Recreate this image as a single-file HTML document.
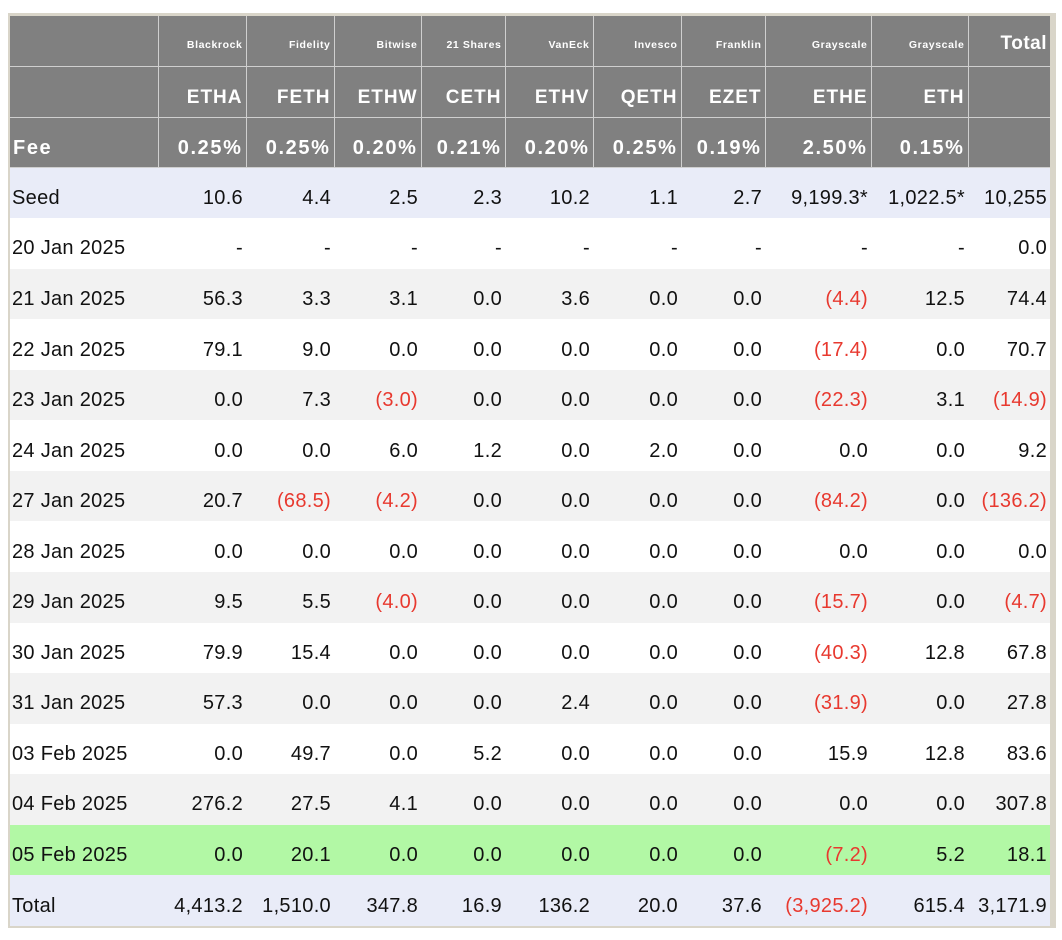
<!DOCTYPE html>
<html><head><meta charset="utf-8">
<style>
html,body{margin:0;padding:0;background:#fff;width:1062px;height:940px;overflow:hidden}
#wrap{position:absolute;left:8px;top:13px;border:2px solid #d9d5c9;border-top-width:3px;border-right-width:6px}
table{border-collapse:collapse;table-layout:fixed;width:1040px;font-family:"Liberation Sans",sans-serif;font-size:20px;letter-spacing:0.3px;color:#111}
td{height:50.56px;padding:11px 3px 0 2px;text-align:right;white-space:nowrap;overflow:visible;box-sizing:border-box}
tr.h td{background:#808080;color:#fff;font-weight:bold;border:1px solid #cfcfcf;letter-spacing:1px;font-size:19px;padding-top:12px}
tr.h td.fee{font-size:20px;letter-spacing:1.6px}
tr.h td.co{font-size:10.5px;vertical-align:bottom;padding-bottom:15px;letter-spacing:0.6px;padding-top:0}
tr.h td.tot{font-size:19px;vertical-align:top;padding-top:17px;letter-spacing:0.5px}
td.first{text-align:left;padding-left:2px}
tr.h td.first{border-left:none;padding-left:3px}
tr.h td:last-child{border-right:none}
tr.h:first-child td{border-top:none}
.neg{color:#e8392f}
tr.seed td,tr.total td{background:#e9ecf8}
tr.g td{background:#f2f2f2}
tr.w td{background:#fff}
tr.hl td{background:#b2f8a5}
</style></head><body>
<div id="wrap">
<table id="t">
<colgroup>
<col style="width:148px"><col style="width:88px"><col style="width:88px"><col style="width:87px"><col style="width:84px"><col style="width:88px"><col style="width:88px"><col style="width:84px"><col style="width:106px"><col style="width:97px"><col style="width:82px">
</colgroup>
<tbody id="tb"></tbody>
</table>
</div>
<script>
const issuers=["Blackrock","Fidelity","Bitwise","21 Shares","VanEck","Invesco","Franklin","Grayscale","Grayscale"];
const tickers=["ETHA","FETH","ETHW","CETH","ETHV","QETH","EZET","ETHE","ETH"];
const fees=["0.25%","0.25%","0.20%","0.21%","0.20%","0.25%","0.19%","2.50%","0.15%"];
const dates=["Seed","20 Jan 2025","21 Jan 2025","22 Jan 2025","23 Jan 2025","24 Jan 2025","27 Jan 2025","28 Jan 2025","29 Jan 2025","30 Jan 2025","31 Jan 2025","03 Feb 2025","04 Feb 2025","05 Feb 2025","Total"];
const values=[
["10.6","4.4","2.5","2.3","10.2","1.1","2.7","9,199.3*","1,022.5*","10,255"],
["-","-","-","-","-","-","-","-","-","0.0"],
["56.3","3.3","3.1","0.0","3.6","0.0","0.0","(4.4)","12.5","74.4"],
["79.1","9.0","0.0","0.0","0.0","0.0","0.0","(17.4)","0.0","70.7"],
["0.0","7.3","(3.0)","0.0","0.0","0.0","0.0","(22.3)","3.1","(14.9)"],
["0.0","0.0","6.0","1.2","0.0","2.0","0.0","0.0","0.0","9.2"],
["20.7","(68.5)","(4.2)","0.0","0.0","0.0","0.0","(84.2)","0.0","(136.2)"],
["0.0","0.0","0.0","0.0","0.0","0.0","0.0","0.0","0.0","0.0"],
["9.5","5.5","(4.0)","0.0","0.0","0.0","0.0","(15.7)","0.0","(4.7)"],
["79.9","15.4","0.0","0.0","0.0","0.0","0.0","(40.3)","12.8","67.8"],
["57.3","0.0","0.0","0.0","2.4","0.0","0.0","(31.9)","0.0","27.8"],
["0.0","49.7","0.0","5.2","0.0","0.0","0.0","15.9","12.8","83.6"],
["276.2","27.5","4.1","0.0","0.0","0.0","0.0","0.0","0.0","307.8"],
["0.0","20.1","0.0","0.0","0.0","0.0","0.0","(7.2)","5.2","18.1"],
["4,413.2","1,510.0","347.8","16.9","136.2","20.0","37.6","(3,925.2)","615.4","3,171.9"]
];
const tb=document.getElementById('tb');
function cell(tr,txt,cls){const td=document.createElement('td');td.textContent=txt;if(cls)td.className=cls;tr.appendChild(td);return td;}
let r=document.createElement('tr');r.className='h';


let c=cell(r,'','first');
for(let i=0;i<issuers.length;i++){c=cell(r,issuers[i],'co');

}
c=cell(r,'Total','tot');


tb.appendChild(r);
r=document.createElement('tr');r.className='h';


cell(r,'','first');
for(let i=0;i<tickers.length;i++){c=cell(r,tickers[i]);

}
cell(r,'');
tb.appendChild(r);
r=document.createElement('tr');r.className='h';


c=cell(r,'Fee','first fee');


for(let i=0;i<fees.length;i++){c=cell(r,fees[i],'fee');

}
cell(r,'');
tb.appendChild(r);
for(let k=0;k<dates.length;k++){
 r=document.createElement('tr');
 let cls='';
 if(k===0)cls='seed';else if(k===dates.length-1)cls='total';else if(dates[k]==='05 Feb 2025')cls='hl';else cls=(k%2===1?'w':'g');
 r.className=cls;
 
 
 c=cell(r,dates[k],'first');
 
 
 for(let j=0;j<values[k].length;j++){
  const v=values[k][j];
  c=cell(r,v,v.startsWith('(')?'neg':'');
  
  
 }
 tb.appendChild(r);
}
</script>
</body></html>
